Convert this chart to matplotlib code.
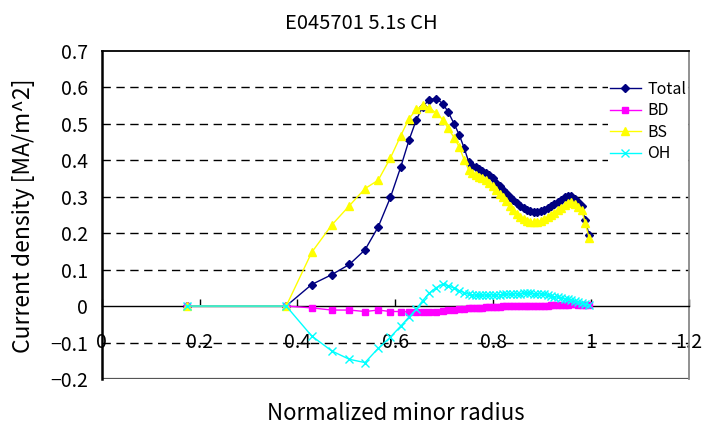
import matplotlib
matplotlib.use('Agg')
import matplotlib.pyplot as plt

plt.rcParams['font.family'] = ['Noto Sans CJK JP', 'DejaVu Sans']

# normalized minor radius grid (same for all four profiles)
rho = [0.175, 0.377, 0.429, 0.470, 0.506, 0.538, 0.565, 0.590, 0.611, 0.628,
       0.643, 0.656, 0.669, 0.683, 0.697, 0.708, 0.720, 0.731, 0.741, 0.750,
       0.757, 0.764, 0.771, 0.778, 0.785, 0.792, 0.799, 0.806, 0.813, 0.820,
       0.827, 0.834, 0.841, 0.848, 0.855, 0.862, 0.869, 0.876, 0.883, 0.890,
       0.897, 0.904, 0.911, 0.918, 0.925, 0.932, 0.939, 0.946, 0.953, 0.960,
       0.967, 0.974, 0.981, 0.988, 0.996]

j_total = [0.0, 0.0, 0.059, 0.086, 0.114, 0.154, 0.217, 0.298, 0.381, 0.455,
           0.511, 0.546, 0.566, 0.569, 0.555, 0.532, 0.500, 0.468, 0.432, 0.395,
           0.385, 0.380, 0.376, 0.371, 0.366, 0.359, 0.350, 0.338, 0.328, 0.318,
           0.309, 0.299, 0.290, 0.282, 0.275, 0.268, 0.264, 0.260, 0.257, 0.257,
           0.260, 0.264, 0.269, 0.274, 0.280, 0.286, 0.292, 0.298, 0.303, 0.301,
           0.293, 0.285, 0.275, 0.235, 0.195]

j_bd = [0.0, 0.0, -0.005, -0.011, -0.011, -0.015, -0.011, -0.015, -0.015, -0.016,
        -0.017, -0.017, -0.016, -0.015, -0.014, -0.012, -0.011, -0.009, -0.007, -0.006,
        -0.005, -0.005, -0.004, -0.004, -0.003, -0.003, -0.002, -0.002, -0.002, -0.001,
        -0.001, -0.001, -0.001, -0.001, 0.0, 0.0, 0.0, 0.0, 0.0, 0.0,
        0.001, 0.001, 0.001, 0.002, 0.002, 0.003, 0.003, 0.004, 0.004, 0.005,
        0.005, 0.004, 0.004, 0.003, 0.002]

j_bs = [0.0, 0.0, 0.147, 0.222, 0.275, 0.322, 0.345, 0.406, 0.467, 0.514,
        0.539, 0.551, 0.543, 0.530, 0.511, 0.487, 0.462, 0.435, 0.400, 0.373,
        0.364, 0.359, 0.355, 0.351, 0.346, 0.338, 0.328, 0.318, 0.308, 0.299,
        0.287, 0.274, 0.263, 0.253, 0.245, 0.238, 0.234, 0.231, 0.230, 0.231,
        0.234, 0.238, 0.243, 0.249, 0.256, 0.263, 0.270, 0.277, 0.283, 0.285,
        0.279, 0.271, 0.262, 0.228, 0.187]

j_oh = [0.0, 0.0, -0.082, -0.123, -0.146, -0.155, -0.116, -0.085, -0.055, -0.030,
        -0.008, 0.015, 0.035, 0.050, 0.060, 0.056, 0.049, 0.042, 0.037, 0.032,
        0.030, 0.030, 0.030, 0.030, 0.030, 0.030, 0.031, 0.031, 0.031, 0.032,
        0.032, 0.033, 0.033, 0.034, 0.034, 0.035, 0.035, 0.035, 0.034, 0.034,
        0.033, 0.032, 0.030, 0.028, 0.026, 0.024, 0.022, 0.020, 0.018, 0.016,
        0.014, 0.011, 0.009, 0.006, 0.003]

xticks = [0, 0.2, 0.4, 0.6, 0.8, 1.0, 1.2]
xticklabels = ['0', '0.2', '0.4', '0.6', '0.8', '1', '1.2']
yticks = [-0.2, -0.1, 0, 0.1, 0.2, 0.3, 0.4, 0.5, 0.6, 0.7]
yticklabels = ['\u22120.2', '\u22120.1', '0', '0.1', '0.2', '0.3', '0.4', '0.5', '0.6', '0.7']

fig = plt.figure(figsize=(7.03, 4.28), dpi=100)
ax = fig.add_axes([0.1447, 0.1145, 0.8353, 0.767])

ax.set_xlim(0, 1.2)
ax.set_ylim(-0.2, 0.7)

for y in [-0.1, 0.1, 0.2, 0.3, 0.4, 0.5, 0.6]:
    ax.axhline(y, color='black', lw=1, ls=(0, (6, 4)), zorder=1)
ax.axhline(-0.2, color='#555555', lw=1.6, zorder=1)

ax.plot(rho, j_total, color='#000080', marker='D', ms=4.5, lw=1, label='Total', zorder=3)
ax.plot(rho, j_bd, color='#FF00FF', marker='s', ms=5, lw=1, label='BD', zorder=3)
ax.plot(rho, j_bs, color='#FFFF00', marker='^', ms=6, lw=1, label='BS', zorder=3)
ax.plot(rho, j_oh, color='#00FFFF', marker='x', ms=5.5, mew=1, lw=1, label='OH', zorder=3)

ax.spines['bottom'].set_position(('data', 0))
ax.spines['bottom'].set_linewidth(1)
ax.spines['left'].set_linewidth(1.8)
ax.spines['top'].set_linewidth(1.3)
ax.spines['right'].set_color('#888888')
ax.spines['right'].set_linewidth(1.3)

ax.set_xticks(xticks)
ax.set_xticklabels(xticklabels, fontsize=14)
ax.tick_params(axis='x', direction='in', length=5, width=1, pad=19)
ax.set_yticks(yticks)
ax.set_yticklabels(yticklabels, fontsize=14)
ax.tick_params(axis='y', length=0, pad=10)

fig.text(0.5135, 0.945, 'E045701 5.1s CH', ha='center', va='center', fontsize=14.5)
fig.text(0.5635, 0.033, 'Normalized minor radius', ha='center', va='center', fontsize=16)
fig.text(0.034, 0.497, 'Current density [MA/m^2]', ha='center', va='center',
         rotation=90, fontsize=16.5)

leg = ax.legend(loc='upper left', bbox_to_anchor=(0.862, 0.915), frameon=True,
                fontsize=11.5, handlelength=1.9, handletextpad=0.4, labelspacing=0.28,
                borderpad=0.15, borderaxespad=0, fancybox=False)
leg.get_frame().set_facecolor('white')
leg.get_frame().set_edgecolor('none')
leg.get_frame().set_alpha(1)
leg.set_zorder(5)

fig.savefig('out.png', dpi=100)
